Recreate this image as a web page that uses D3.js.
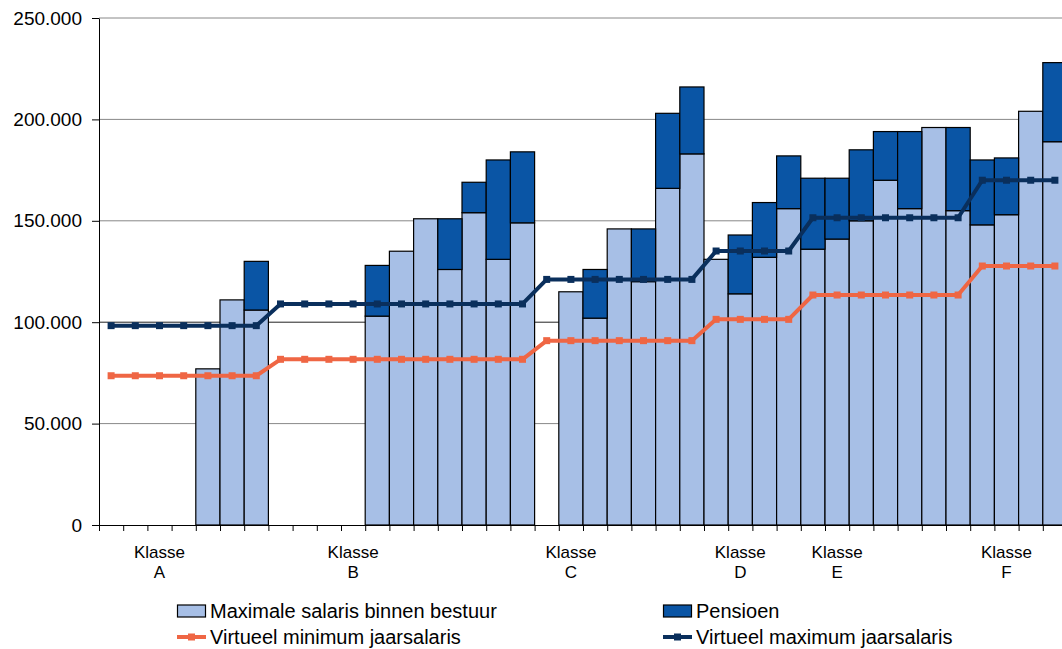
<!DOCTYPE html>
<html>
<head>
<meta charset="utf-8">
<script src="https://cdn.jsdelivr.net/npm/d3@7"></script>
<style>
  body { margin: 0; background: #fff; }
  svg { display: block; font-family: "Liberation Sans", Arial, sans-serif; }
  .axis text { fill: #000; }
</style>
</head>
<body>
<script>
// data (40 posts, the last one clipped on the right)
const tickLabels = ['', '', 'Klasse|A', '', '', '', '', '', '', '', 'Klasse|B', '', '', '', '', '', '', '', '', 'Klasse|C',
                    '', '', '', '', '', '', 'Klasse|D', '', '', '', 'Klasse|E', '', '', '', '', '', '', 'Klasse|F', '', ''];

const salary = [null, null, null, null, 77000, 111000, 106000,
                null, null, null, null, 103000, 135000, 151000, 126000, 154000, 131000, 149000,
                null, 115000, 102000, 146000, 120000, 166000, 183000,
                131000, 114000, 132000, 156000,
                136000, 141000, 150000, 170000, 156000, 196000, 155000,
                148000, 153000, 204000, 189000];

const pension = [0, 0, 0, 0, 0, 0, 24000,
                 0, 0, 0, 0, 25000, 0, 0, 25000, 15000, 49000, 35000,
                 0, 0, 24000, 0, 26000, 37000, 33000,
                 0, 29000, 27000, 26000,
                 35000, 30000, 35000, 24000, 38000, 0, 41000,
                 32000, 28000, 0, 39000];

const minSalary = [73600, 73600, 73600, 73600, 73600, 73600, 73600,
                   81700, 81700, 81700, 81700, 81700, 81700, 81700, 81700, 81700, 81700, 81700,
                   90900, 90900, 90900, 90900, 90900, 90900, 90900,
                   101400, 101400, 101400, 101400,
                   113400, 113400, 113400, 113400, 113400, 113400, 113400,
                   127700, 127700, 127700, 127700];

const maxSalary = [98300, 98300, 98300, 98300, 98300, 98300, 98300,
                   109000, 109000, 109000, 109000, 109000, 109000, 109000, 109000, 109000, 109000, 109000,
                   121100, 121100, 121100, 121100, 121100, 121100, 121100,
                   135100, 135100, 135100, 135100,
                   151500, 151500, 151500, 151500, 151500, 151500, 151500,
                   170000, 170000, 170000, 170000];

const yTicks = [0, 50000, 100000, 150000, 200000, 250000];

const legendItems = [
  { label: 'Maximale salaris binnen bestuur', type: 'bar', color: '#a7bfe6' },
  { label: 'Pensioen', type: 'bar', color: '#0a55a5' },
  { label: 'Virtueel minimum jaarsalaris', type: 'line', color: '#ef6644' },
  { label: 'Virtueel maximum jaarsalaris', type: 'line', color: '#0a2f5c' }
];

const W = 1062, H = 649;
const plotLeft = 99, plotTop = 18, plotBottom = 525;

const svg = d3.select('body').append('svg')
  .attr('width', W)
  .attr('height', H);

// scales
const x = d3.scaleBand().domain(d3.range(salary.length)).range([plotLeft, plotLeft + 24.2 * salary.length]).padding(0);
const y = d3.scaleLinear().domain([0, 250000]).range([plotBottom, plotTop]);
const cx = i => x(i) + x.bandwidth() / 2;

// gridlines
svg.append('g')
  .selectAll('line')
  .data(yTicks.filter(d => d > 0))
  .enter().append('line')
  .attr('x1', plotLeft).attr('x2', x.range()[1])
  .attr('y1', d => y(d)).attr('y2', d => y(d))
  .style('stroke', d => d === 100000 ? '#222' : '#888')
  .style('stroke-width', 1);

// bars: salary
svg.append('g')
  .selectAll('rect')
  .data(salary.map((v, i) => ({ i: i, v: v })).filter(d => d.v !== null))
  .enter().append('rect')
  .attr('x', d => x(d.i))
  .attr('width', x.bandwidth())
  .attr('y', d => y(d.v))
  .attr('height', d => y(0) - y(d.v))
  .style('fill', legendItems[0].color)
  .style('stroke', '#000')
  .style('stroke-width', 1.2);

// bars: pension, stacked on top of salary
svg.append('g')
  .selectAll('rect')
  .data(pension.map((v, i) => ({ i: i, v: v, base: salary[i] || 0 })).filter(d => d.v > 0))
  .enter().append('rect')
  .attr('x', d => x(d.i))
  .attr('width', x.bandwidth())
  .attr('y', d => y(d.base + d.v))
  .attr('height', d => y(d.base) - y(d.base + d.v))
  .style('fill', legendItems[1].color)
  .style('stroke', '#000')
  .style('stroke-width', 1.2);

// y axis
const yAxis = svg.append('g')
  .attr('class', 'axis')
  .attr('transform', 'translate(' + plotLeft + ',0)')
  .call(d3.axisLeft(y)
    .tickValues(yTicks)
    .tickSizeInner(7)
    .tickSizeOuter(0)
    .tickPadding(10)
    .tickFormat(d => d3.format(',')(d).replace(/,/g, '.')));
yAxis.selectAll('line, path').style('stroke', '#000');
yAxis.selectAll('text').style('font-size', '19px');

// x axis: line and a tick at each slot boundary
const xAxis = svg.append('g').attr('class', 'axis');
xAxis.append('line')
  .attr('x1', plotLeft).attr('x2', x.range()[1])
  .attr('y1', plotBottom + 0.5).attr('y2', plotBottom + 0.5)
  .style('stroke', '#000');
xAxis.selectAll('.xtick')
  .data(d3.range(salary.length + 1))
  .enter().append('line')
  .attr('class', 'xtick')
  .attr('x1', i => plotLeft + i * x.step() + 0.5)
  .attr('x2', i => plotLeft + i * x.step() + 0.5)
  .attr('y1', plotBottom)
  .attr('y2', plotBottom + 6)
  .style('stroke', '#000');

const catText = xAxis.selectAll('.cat')
  .data(tickLabels.map((l, i) => ({ i: i, l: l })).filter(d => d.l))
  .enter().append('text')
  .attr('class', 'cat')
  .attr('text-anchor', 'middle')
  .style('font-size', '17px');
catText.append('tspan')
  .attr('x', d => cx(d.i)).attr('y', 558)
  .text(d => d.l.split('|')[0]);
catText.append('tspan')
  .attr('x', d => cx(d.i)).attr('y', 578)
  .text(d => d.l.split('|')[1]);

// lines
function drawLine(values, color) {
  const line = d3.line()
    .x((d, i) => cx(i))
    .y(d => y(d));
  svg.append('path')
    .datum(values)
    .attr('d', line)
    .style('fill', 'none')
    .style('stroke', color)
    .style('stroke-width', 4)
    .style('stroke-linejoin', 'round');
  svg.append('g')
    .selectAll('rect')
    .data(values)
    .enter().append('rect')
    .attr('x', (d, i) => cx(i) - 3.5)
    .attr('y', d => y(d) - 3.5)
    .attr('width', 7)
    .attr('height', 7)
    .style('fill', color);
}
drawLine(minSalary, legendItems[2].color);
drawLine(maxSalary, legendItems[3].color);

// legend
const legendPos = [[177, 611], [663, 611], [177, 637], [663, 637]];
const legend = svg.append('g')
  .selectAll('g')
  .data(legendItems)
  .enter().append('g')
  .attr('transform', (d, i) => 'translate(' + legendPos[i][0] + ',' + legendPos[i][1] + ')');

legend.filter(d => d.type === 'bar').append('rect')
  .attr('x', 0.5).attr('y', -6)
  .attr('width', 28).attr('height', 12)
  .style('fill', d => d.color)
  .style('stroke', '#000')
  .style('stroke-width', 1.2);

legend.filter(d => d.type === 'line').append('line')
  .attr('x1', 0).attr('x2', 29)
  .attr('y1', 0).attr('y2', 0)
  .style('stroke', d => d.color)
  .style('stroke-width', 4);
legend.filter(d => d.type === 'line').append('rect')
  .attr('x', 11).attr('y', -3.5)
  .attr('width', 7).attr('height', 7)
  .style('fill', d => d.color);

legend.append('text')
  .attr('x', 33)
  .attr('y', 7)
  .style('font-size', '20px')
  .style('fill', '#000')
  .text(d => d.label);
</script>
</body>
</html>
